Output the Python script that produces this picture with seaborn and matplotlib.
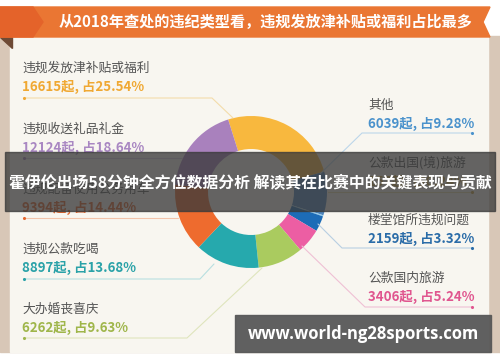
import matplotlib
matplotlib.use("Agg")
import matplotlib.pyplot as plt
from matplotlib.patches import Rectangle, Polygon
import seaborn as sns

# ---- data ----
title = "从2018年查处的违纪类型看，违规发放津补贴或福利占比最多"
banner_text = "霍伊伦出场58分钟全方位数据分析 解读其在比赛中的关键表现与贡献"
watermark = "www.world-ng28sports.com"

# pie order (clockwise from top)
categories = ["违规发放津补贴或福利", "其他", "公款出国(境)旅游", "楼堂馆所违规问题",
              "公款国内旅游", "大办婚丧喜庆", "违规公款吃喝", "违规配备使用公务用车",
              "违规收送礼品礼金"]
counts = [16615, 6039, 157, 2159, 3406, 6262, 8897, 9394, 12124]
percents = ["25.54", "9.28", "0.24", "3.32", "5.24", "9.63", "13.68", "14.44", "18.64"]
slice_colors = ["#f8b83e", "#4f86bd", "#8fcbee", "#1d6cb7", "#ec5ea3", "#aacb5f",
                "#26a9ad", "#ee6b2e", "#a981bd"]
text_colors = ["#f0a832", "#4a92cc", "#c8a040", "#2a6ca8", "#e0568f", "#9fb64a",
               "#2aa2a8", "#e6662c", "#a987c2"]
line_colors = ["#f3dcaa", "#bcd6ea", "#e8d8a8", "#b8cfe2", "#efc0d4", "#dfe5bd",
               "#b8dfe0", "#f3c4aa", "#dccbe4"]

left_items = [0, 8, 7, 6, 5]
left_y = [68, 129, 189, 249, 309]
right_items = [1, 2, 3, 4]
right_y = [105, 163, 220, 278]

sns.set_style("white")
plt.rcParams["font.family"] = ["Noto Sans CJK SC", "DejaVu Sans"]
pal = sns.color_palette(slice_colors)

fig = plt.figure(figsize=(5, 3.62), dpi=100, facecolor="white")
ax = fig.add_axes([0, 0, 1, 1])

# donut
ax.pie(counts, colors=pal, startangle=-107.5, counterclock=True,
       center=(251, 192), radius=76,
       wedgeprops=dict(width=33, linewidth=0), frame=False)
ax.set_xlim(0, 500)
ax.set_ylim(362, 0)
ax.set_aspect("auto")
ax.axis("off")

# background frame / panel
ax.add_patch(Rectangle((0, 0), 500, 362, color="white", zorder=-10))
ax.add_patch(Rectangle((0, 36), 500, 316, color="#d8c7b7", zorder=-9))
ax.add_patch(Rectangle((10, 37), 478, 315, color="#f8f6f0", zorder=-8))
ax.add_patch(Polygon([(0, 37), (12, 37), (12, 48)], color="#6e4a35", zorder=-7))
# orange title banner
ax.add_patch(Polygon([(0, 7), (490, 7), (483, 22), (490, 37), (0, 37)],
                     color="#ea7633", zorder=5))
ax.add_patch(Polygon([(0, 7), (33, 7), (43, 22), (33, 37), (0, 37)],
                     color="#e4632a", zorder=6))
ax.text(266, 22, title, color="white", fontsize=10.9, fontweight="bold",
        ha="center", va="center", zorder=7)

# connector lines
connectors = {
    0: [(24, 98), (212, 98), (233, 118)],
    8: [(24, 158), (182, 158)],
    7: [(24, 218), (178, 218)],
    6: [(24, 279), (200, 279), (214, 264)],
    5: [(24, 338), (187, 338), (262, 268)],
    1: [(472, 133), (362, 133), (320, 174)],
    2: [(472, 192), (328, 192)],
    3: [(472, 248), (342, 248), (318, 224)],
    4: [(472, 307), (365, 307), (302, 246)],
}
for idx, pts in connectors.items():
    xs = [p[0] for p in pts]
    ys = [p[1] for p in pts]
    ax.plot(xs, ys, color=line_colors[idx], lw=0.8, zorder=1)
    ax.scatter([xs[0]], [ys[0]], s=5, color=text_colors[idx], zorder=2, linewidths=0)

# labels
for idx, y in zip(left_items, left_y):
    ax.text(22, y, categories[idx], color="#555555", fontsize=9.2,
            va="center", ha="left", zorder=3)
    ax.text(22, y + 19, f"{counts[idx]}起, 占{percents[idx]}%", color=text_colors[idx],
            fontsize=9.6, fontweight="bold", va="center", ha="left", zorder=3)
for idx, y in zip(right_items, right_y):
    ax.text(368, y, categories[idx], color="#555555", fontsize=9.2,
            va="center", ha="left", zorder=3)
    ax.text(368, y + 19, f"{counts[idx]}起, 占{percents[idx]}%", color=text_colors[idx],
            fontsize=9.6, fontweight="bold", va="center", ha="left", zorder=3)

# overlay banner
ax.add_patch(Rectangle((5, 152), 490, 59, color="#3a3a3a", alpha=0.78, zorder=10))
ax.text(250, 182, banner_text, color="white", fontsize=11.4, fontweight="bold",
        ha="center", va="center", zorder=11)

# watermark box
ax.add_patch(Rectangle((235, 315), 256, 37, color="#585858", alpha=0.95, zorder=10))
ax.text(363, 334, watermark, color="white", fontsize=12, fontweight="bold",
        family=["Open Sans", "DejaVu Sans"], ha="center", va="center", zorder=11)

fig.savefig("out.png", dpi=100, facecolor="white")
